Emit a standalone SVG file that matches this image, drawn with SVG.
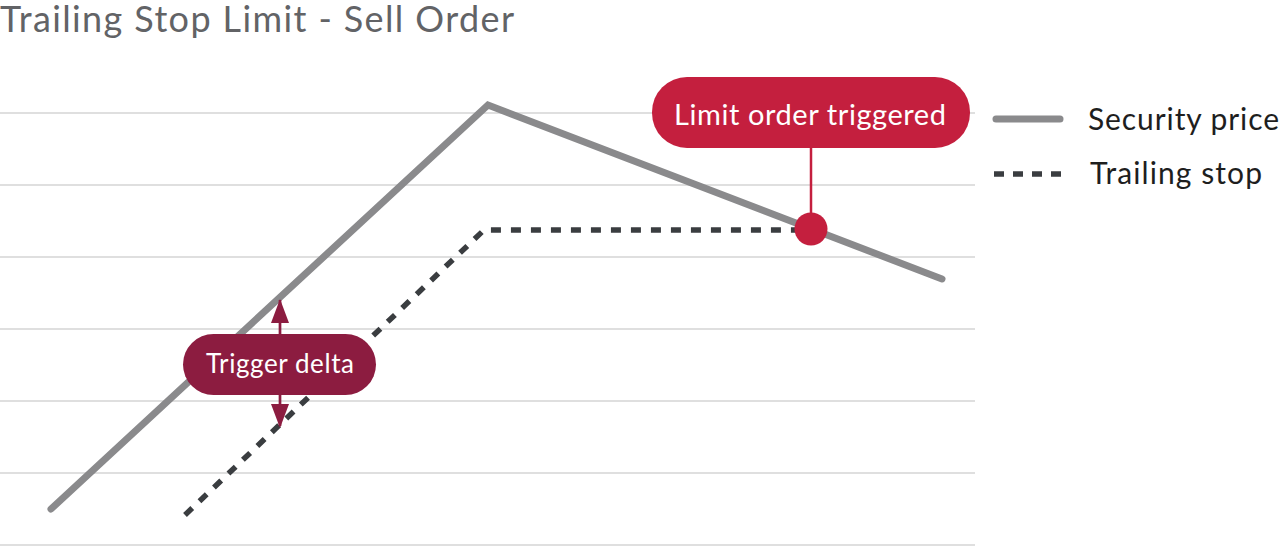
<svg xmlns="http://www.w3.org/2000/svg" width="1280" height="556" viewBox="0 0 1280 556">
<style>
.grid{stroke:#d4d4d4;stroke-width:1.5}
.price{fill:none;stroke:#8a8a8c;stroke-width:7;stroke-linecap:round;stroke-linejoin:miter}
.stop{fill:none;stroke:#3a3d40;stroke-width:5.5;stroke-dasharray:10 10}
.t{font-family:Lato,"Open Sans","Liberation Sans",sans-serif}
.lbl{fill:#ffffff;text-anchor:middle}
.leg{fill:#1e1e1e;font-size:30px}
</style>
<text class="t" x="0" y="32" font-size="36" fill="#626366" textLength="514">Trailing Stop Limit - Sell Order</text>
<g id="grid">
<line class="grid" x1="0" y1="113" x2="975" y2="113"/>
<line class="grid" x1="0" y1="185" x2="975" y2="185"/>
<line class="grid" x1="0" y1="257" x2="975" y2="257"/>
<line class="grid" x1="0" y1="329" x2="975" y2="329"/>
<line class="grid" x1="0" y1="401" x2="975" y2="401"/>
<line class="grid" x1="0" y1="473" x2="975" y2="473"/>
<line class="grid" x1="0" y1="545" x2="975" y2="545"/>
</g>
<g id="connectors">
<polyline class="price" points="51,509 488,105 942,279"/>
<polyline class="stop" points="185,515 484,230 810,230"/>
<line x1="811" y1="148" x2="811" y2="228" stroke="#c41f3e" stroke-width="2.5"/>
<path d="M280,334 L280,300" stroke="#8c1c40" stroke-width="2.7"/>
<path d="M271,323 L280,299 L289,323 Z" fill="#8c1c40"/>
<path d="M280,395 L280,426" stroke="#8c1c40" stroke-width="2.7"/>
<path d="M271,404 L280,428 L289,404 Z" fill="#8c1c40"/>
</g>
<g id="limit-order">
<rect x="652" y="77" width="318" height="71" rx="35" fill="#c41f3e"/>
<text class="t lbl" x="810" y="125" font-size="29" textLength="272">Limit order triggered</text>
<circle cx="811" cy="229" r="16.5" fill="#c41f3e"/>
</g>
<g id="trigger-delta">
<rect x="183" y="334" width="193" height="61" rx="30.5" fill="#8c1c40"/>
<text class="t lbl" x="280" y="373" font-size="26" textLength="148">Trigger delta</text>
</g>
<g id="legend">
<line x1="996" y1="119" x2="1060" y2="119" stroke="#8a8a8c" stroke-width="7" stroke-linecap="round"/>
<text class="t leg" x="1088" y="130" textLength="191">Security price</text>
<line x1="994" y1="174" x2="1062" y2="174" stroke="#3a3d40" stroke-width="5.5" stroke-dasharray="10 9"/>
<text class="t leg" x="1090" y="184" textLength="172">Trailing stop</text>
</g>
</svg>
